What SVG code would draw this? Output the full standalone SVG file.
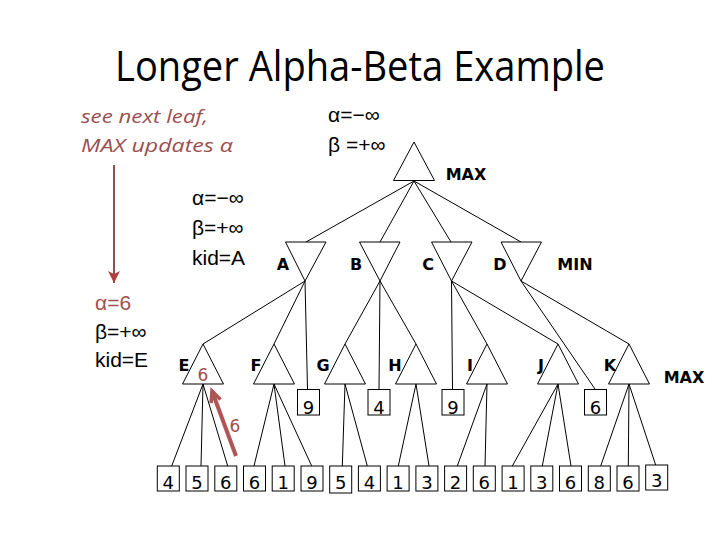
<svg xmlns="http://www.w3.org/2000/svg" width="720" height="540" viewBox="0 0 720 540">
<style>
.tri{fill:#fff;stroke:#000;stroke-width:1}
.box{fill:#fff;stroke:#000;stroke-width:1}
.edge{stroke:#000;stroke-width:1;fill:none}
.num{font-family:"DejaVu Sans",Verdana,sans-serif;font-size:18px;fill:#000;text-anchor:middle}
.lbl{font-family:"DejaVu Sans",Verdana,sans-serif;font-size:16px;font-weight:bold;fill:#000;text-anchor:middle}
.info{font-family:"Liberation Sans",Arial,sans-serif;font-size:21px;fill:#000}
.red{fill:#A05050}
.note{font-family:"Open Sans","Liberation Sans",sans-serif;font-size:19px;font-style:italic;fill:#9A5050}
.title{font-family:"Open Sans","Liberation Sans",sans-serif;font-size:42px;fill:#000}
</style>
<defs>
<marker id="headFill" viewBox="0 0 12 12" refX="12" refY="6" markerWidth="12" markerHeight="12" markerUnits="userSpaceOnUse" orient="auto" overflow="visible">
<path d="M0,0 L12,6 L0,12 L3,6 z" fill="#B04040"/>
</marker>
<marker id="headOpen" viewBox="0 0 11 10" refX="11" refY="5" markerWidth="11" markerHeight="10" markerUnits="userSpaceOnUse" orient="auto" overflow="visible">
<path d="M0,0 L11,5 L0,10" fill="none" stroke="#B05555" stroke-width="3.5"/>
</marker>
</defs>
<rect width="720" height="540" fill="#fff"/>

<text class="title" x="115" y="81" textLength="490" lengthAdjust="spacingAndGlyphs">Longer Alpha-Beta Example</text>

<g id="notes">
<text class="note" x="81" y="123" textLength="127" lengthAdjust="spacingAndGlyphs">see next leaf,</text>
<text class="note" x="81" y="152" textLength="152" lengthAdjust="spacingAndGlyphs">MAX updates α</text>
<line x1="114" y1="165" x2="114" y2="283" stroke="#8E4F4F" stroke-width="2" marker-end="url(#headFill)"/>
<text class="info red" x="95" y="310">α=6</text>
<text class="info" x="95" y="339">β=+∞</text>
<text class="info" x="95" y="367">kid=E</text>
<text class="info" x="192" y="205">α=−∞</text>
<text class="info" x="192" y="235">β=+∞</text>
<text class="info" x="192" y="265">kid=A</text>
<text class="info" x="328" y="122">α=−∞</text>
<text class="info" x="328" y="152">β =+∞</text>
</g>

<g id="connectors">
<line class="edge" x1="414" y1="181" x2="306" y2="242"/>
<line class="edge" x1="414" y1="181" x2="380" y2="242"/>
<line class="edge" x1="414" y1="181" x2="451" y2="242"/>
<line class="edge" x1="414" y1="181" x2="521" y2="242"/>
<line class="edge" x1="305" y1="281" x2="203" y2="344"/>
<line class="edge" x1="305" y1="281" x2="274" y2="344"/>
<line class="edge" x1="305" y1="281" x2="307.5" y2="389"/>
<line class="edge" x1="380" y1="281" x2="345" y2="344"/>
<line class="edge" x1="380" y1="281" x2="379" y2="389"/>
<line class="edge" x1="380" y1="281" x2="416" y2="344"/>
<line class="edge" x1="451.5" y1="281" x2="452.5" y2="389"/>
<line class="edge" x1="451.5" y1="281" x2="487" y2="344"/>
<line class="edge" x1="451.5" y1="281" x2="558" y2="344"/>
<line class="edge" x1="521" y1="281" x2="595" y2="389"/>
<line class="edge" x1="521" y1="281" x2="629" y2="344"/>
<line class="edge" x1="203" y1="384" x2="171.7" y2="466"/>
<line class="edge" x1="203" y1="384" x2="201" y2="466"/>
<line class="edge" x1="203" y1="384" x2="227.7" y2="466"/>
<line class="edge" x1="274" y1="384" x2="254" y2="466"/>
<line class="edge" x1="274" y1="384" x2="285" y2="466"/>
<line class="edge" x1="274" y1="384" x2="311.7" y2="466"/>
<line class="edge" x1="345" y1="384" x2="342.3" y2="466"/>
<line class="edge" x1="345" y1="384" x2="367.3" y2="466"/>
<line class="edge" x1="416" y1="384" x2="398.3" y2="466"/>
<line class="edge" x1="416" y1="384" x2="429" y2="466"/>
<line class="edge" x1="487" y1="384" x2="457.3" y2="466"/>
<line class="edge" x1="487" y1="384" x2="485" y2="466"/>
<line class="edge" x1="558" y1="384" x2="512.3" y2="466"/>
<line class="edge" x1="558" y1="384" x2="542.3" y2="466"/>
<line class="edge" x1="558" y1="384" x2="571" y2="466"/>
<line class="edge" x1="629" y1="384" x2="600.7" y2="466"/>
<line class="edge" x1="629" y1="384" x2="628.3" y2="466"/>
<line class="edge" x1="629" y1="384" x2="656" y2="466"/>
</g>

<g id="root">
<polygon class="tri" points="414,142 393.5,180.5 434.5,180.5"/>
<text class="lbl" x="466" y="180">MAX</text>
</g>

<g id="A"><polygon class="tri" points="285.5,242 326,242 305,281"/><text class="lbl" x="283" y="270">A</text></g>
<g id="B"><polygon class="tri" points="359.5,242 400,242 380,281"/><text class="lbl" x="356" y="270">B</text></g>
<g id="C"><polygon class="tri" points="431.5,242 472,242 451.5,281"/><text class="lbl" x="428" y="270">C</text></g>
<g id="D"><polygon class="tri" points="501,242 541.5,242 521,281"/><text class="lbl" x="500" y="270">D</text></g>
<text class="lbl" x="575" y="270">MIN</text>

<g id="E"><polygon class="tri" points="203,344 182.5,384 223.5,384"/><text class="lbl" x="184" y="371">E</text><text class="num red" x="203" y="381" style="font-size:17px">6</text></g>
<g id="F"><polygon class="tri" points="274,344 253.5,384 294.5,384"/><text class="lbl" x="256" y="371">F</text></g>
<g id="G"><polygon class="tri" points="345,344 324.5,384 365.5,384"/><text class="lbl" x="323" y="371">G</text></g>
<g id="H"><polygon class="tri" points="416,344 395.5,384 436.5,384"/><text class="lbl" x="395" y="371">H</text></g>
<g id="I"><polygon class="tri" points="487,344 466.5,384 507.5,384"/><text class="lbl" x="470" y="371">I</text></g>
<g id="J"><polygon class="tri" points="558,344 537.5,384 578.5,384"/><text class="lbl" x="541" y="371">J</text></g>
<g id="K"><polygon class="tri" points="629,344 608.5,384 649.5,384"/><text class="lbl" x="610" y="371">K</text></g>
<text class="lbl" x="684" y="383">MAX</text>

<g id="A9"><rect class="box" x="297.5" y="389.5" width="22" height="25.5"/><text class="num" x="308.5" y="414">9</text></g>
<g id="B4"><rect class="box" x="368" y="389.5" width="22" height="25.5"/><text class="num" x="379" y="414">4</text></g>
<g id="C9"><rect class="box" x="442" y="389.5" width="22" height="25.5"/><text class="num" x="453" y="414">9</text></g>
<g id="D6"><rect class="box" x="584.5" y="389.5" width="22" height="25.5"/><text class="num" x="595.5" y="414">6</text></g>

<g id="arrowE">
<line x1="236" y1="456" x2="212" y2="391" stroke="#B05555" stroke-width="4" marker-end="url(#headOpen)"/>
<text class="num red" x="235" y="432" style="font-size:17px">6</text>
</g>

<g id="leaves">
<g id="L1"><rect class="box" x="157.3" y="466" width="22" height="25"/><text class="num" x="168.3" y="489">4</text></g>
<g id="L2"><rect class="box" x="186.0" y="466" width="22" height="25"/><text class="num" x="197.0" y="489">5</text></g>
<g id="L3"><rect class="box" x="214.8" y="466" width="22" height="25"/><text class="num" x="225.8" y="489">6</text></g>
<g id="L4"><rect class="box" x="243.5" y="466" width="22" height="25"/><text class="num" x="254.5" y="489">6</text></g>
<g id="L5"><rect class="box" x="272.2" y="466" width="22" height="25"/><text class="num" x="283.2" y="489">1</text></g>
<g id="L6"><rect class="box" x="301.0" y="466" width="22" height="25"/><text class="num" x="312.0" y="489">9</text></g>
<g id="L7"><rect class="box" x="329.7" y="466" width="22" height="27"/><text class="num" x="340.7" y="489">5</text></g>
<g id="L8"><rect class="box" x="358.4" y="466" width="22" height="25"/><text class="num" x="369.4" y="489">4</text></g>
<g id="L9"><rect class="box" x="387.1" y="466" width="22" height="25"/><text class="num" x="398.1" y="489">1</text></g>
<g id="L10"><rect class="box" x="415.9" y="466" width="22" height="25"/><text class="num" x="426.9" y="489">3</text></g>
<g id="L11"><rect class="box" x="444.6" y="466" width="22" height="25"/><text class="num" x="455.6" y="489">2</text></g>
<g id="L12"><rect class="box" x="473.3" y="466" width="22" height="25"/><text class="num" x="484.3" y="489">6</text></g>
<g id="L13"><rect class="box" x="502.1" y="466" width="22" height="25"/><text class="num" x="513.1" y="489">1</text></g>
<g id="L14"><rect class="box" x="530.8" y="466" width="22" height="25"/><text class="num" x="541.8" y="489">3</text></g>
<g id="L15"><rect class="box" x="559.5" y="466" width="22" height="25"/><text class="num" x="570.5" y="489">6</text></g>
<g id="L16"><rect class="box" x="588.3" y="466" width="22" height="25"/><text class="num" x="599.3" y="489">8</text></g>
<g id="L17"><rect class="box" x="617.0" y="466" width="22" height="25"/><text class="num" x="628.0" y="489">6</text></g>
<g id="L18"><rect class="box" x="645.7" y="465" width="22" height="25"/><text class="num" x="656.7" y="487">3</text></g>
</g>
</svg>
